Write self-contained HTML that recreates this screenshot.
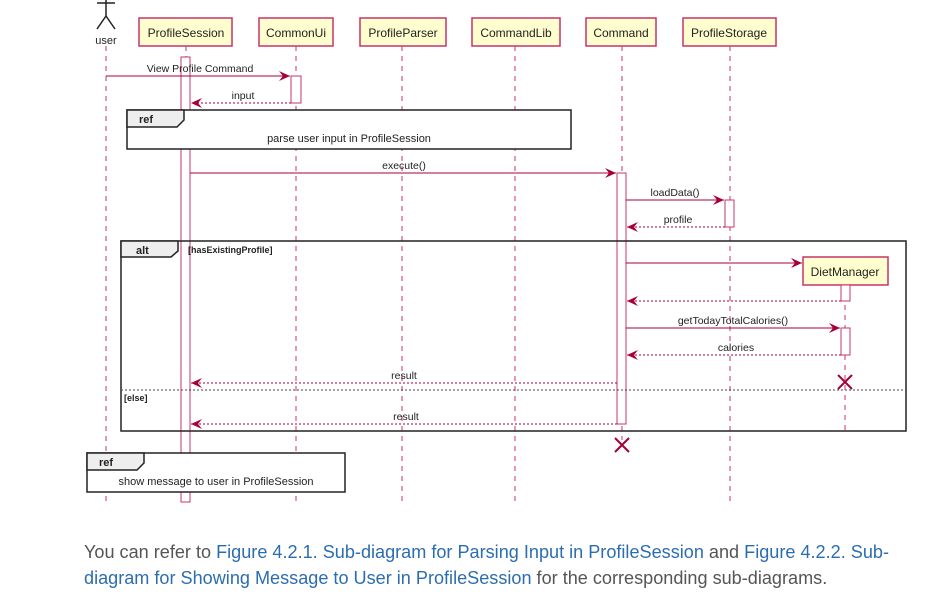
<!DOCTYPE html>
<html><head><meta charset="utf-8"><style>
body{margin:0;background:#fff;width:939px;height:601px;overflow:hidden;position:relative}
svg{position:absolute;left:0;top:0}
.t{position:absolute;left:84px;font-family:"Liberation Sans",sans-serif;font-size:18.1px;color:#555;white-space:nowrap}
.t a{color:#2c6db0;text-decoration:none}
</style></head><body>
<svg width="939" height="520" font-family="Liberation Sans, sans-serif">
<defs>
<marker id="a" markerWidth="12" markerHeight="10" refX="11" refY="5" orient="auto" markerUnits="userSpaceOnUse"><path d="M0,0 L11,5 L0,10 L4,5 Z" fill="#a80036"/></marker>
</defs>
<g stroke="#c8336a" stroke-width="1" stroke-dasharray="5,5">
<line x1="106" y1="46" x2="106" y2="505"/>
<line x1="186" y1="46" x2="186" y2="505"/>
<line x1="296" y1="46" x2="296" y2="505"/>
<line x1="402" y1="46" x2="402" y2="505"/>
<line x1="515" y1="46" x2="515" y2="505"/>
<line x1="622" y1="46" x2="622" y2="440"/>
<line x1="730" y1="46" x2="730" y2="505"/>
<line x1="845" y1="285" x2="845" y2="432"/>
</g>
<g stroke="#222" stroke-width="1.5" fill="none">
<line x1="106" y1="0" x2="106" y2="16"/><line x1="97" y1="3" x2="115" y2="3"/>
<line x1="106" y1="16" x2="97" y2="29"/><line x1="106" y1="16" x2="115" y2="29"/>
</g>
<text x="106" y="44" font-size="11" text-anchor="middle" fill="#222">user</text>
<g fill="#fefece" stroke="#c8336a" stroke-width="1.5">
<rect x="139" y="18" width="93" height="28"/>
<rect x="259" y="18" width="74" height="28"/>
<rect x="360" y="18" width="86" height="28"/>
<rect x="472" y="18" width="88" height="28"/>
<rect x="586" y="18" width="70" height="28"/>
<rect x="683" y="18" width="93" height="28"/>
<rect x="803" y="257" width="85" height="28"/>
</g>
<g font-size="12" fill="#222" text-anchor="middle">
<text x="186" y="37">ProfileSession</text>
<text x="296" y="37">CommonUi</text>
<text x="403" y="37">ProfileParser</text>
<text x="516" y="37">CommandLib</text>
<text x="621" y="37">Command</text>
<text x="729" y="37">ProfileStorage</text>
<text x="845" y="276">DietManager</text>
</g>
<g fill="#fff" stroke="#c8336a" stroke-width="1">
<rect x="181" y="57" width="9" height="445"/>
<rect x="291" y="76" width="10" height="27"/>
<rect x="617" y="173" width="9" height="251"/>
<rect x="725" y="200" width="9" height="27"/>
<rect x="841" y="285" width="9" height="16"/>
<rect x="841" y="328" width="9" height="27"/>
</g>
<rect x="127" y="110" width="444" height="39" fill="#fff" stroke="#222" stroke-width="1.5"/>
<path d="M127,110 H184 V120 L177,127 H127 Z" fill="#eee" stroke="#222" stroke-width="1.5"/>
<text x="139" y="123" font-size="11" font-weight="bold" fill="#222">ref</text>
<text x="349" y="142" font-size="11" text-anchor="middle" fill="#222">parse user input in ProfileSession</text>
<rect x="121" y="241" width="785" height="190" fill="none" stroke="#222" stroke-width="1.5"/>
<path d="M121,241 H178 V251 L171,257 H121 Z" fill="#eee" stroke="#222" stroke-width="1.5"/>
<text x="136" y="254" font-size="11" font-weight="bold" fill="#222">alt</text>
<text x="188" y="253" font-size="9" font-weight="bold" fill="#222">[hasExistingProfile]</text>
<line x1="121" y1="390" x2="906" y2="390" stroke="#444" stroke-dasharray="2,2"/>
<text x="124" y="401" font-size="9" font-weight="bold" fill="#222">[else]</text>
<rect x="87" y="453" width="258" height="39" fill="#fff" stroke="#222" stroke-width="1.5"/>
<path d="M87,453 H144 V463 L137,470 H87 Z" fill="#eee" stroke="#222" stroke-width="1.5"/>
<text x="99" y="466" font-size="11" font-weight="bold" fill="#222">ref</text>
<text x="216" y="485" font-size="11" text-anchor="middle" fill="#222">show message to user in ProfileSession</text>
<g stroke="#a80036" stroke-width="1" marker-end="url(#a)">
<line x1="106" y1="76" x2="290" y2="76"/>
<line x1="291" y1="103" x2="191" y2="103" stroke-dasharray="2,2"/>
<line x1="190" y1="173" x2="616" y2="173"/>
<line x1="626" y1="200" x2="724" y2="200"/>
<line x1="725" y1="227" x2="627" y2="227" stroke-dasharray="2,2"/>
<line x1="626" y1="263" x2="802" y2="263"/>
<line x1="841" y1="301" x2="627" y2="301" stroke-dasharray="2,2"/>
<line x1="626" y1="328" x2="840" y2="328"/>
<line x1="841" y1="355" x2="627" y2="355" stroke-dasharray="2,2"/>
<line x1="617" y1="383" x2="191" y2="383" stroke-dasharray="2,2"/>
<line x1="617" y1="424" x2="191" y2="424" stroke-dasharray="2,2"/>
</g>
<g font-size="10.5" fill="#222" text-anchor="middle">
<text x="200" y="72">View Profile Command</text>
<text x="243" y="99">input</text>
<text x="404" y="169">execute()</text>
<text x="675" y="196">loadData()</text>
<text x="678" y="223">profile</text>
<text x="733" y="324">getTodayTotalCalories()</text>
<text x="736" y="351">calories</text>
<text x="404" y="379">result</text>
<text x="406" y="420">result</text>
</g>
<g stroke="#a80036" stroke-width="2">
<line x1="838" y1="375" x2="852" y2="389"/><line x1="852" y1="375" x2="838" y2="389"/>
<line x1="615" y1="438" x2="629" y2="452"/><line x1="629" y1="438" x2="615" y2="452"/>
</g>
</svg>
<div class="t" style="top:542px">You can refer to <a>Figure 4.2.1. Sub-diagram for Parsing Input in ProfileSession</a> and <a>Figure 4.2.2. Sub-</a></div>
<div class="t" style="top:568px"><a>diagram for Showing Message to User in ProfileSession</a> for the corresponding sub-diagrams.</div>
</body></html>
